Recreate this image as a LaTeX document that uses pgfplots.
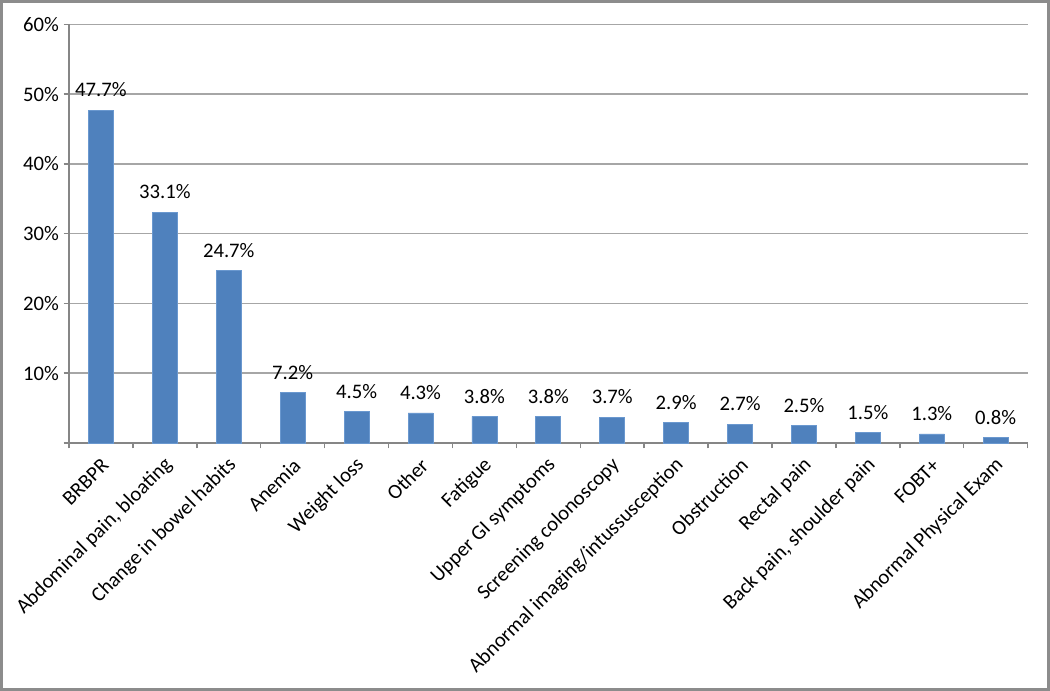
\documentclass[border=0pt]{standalone}
\usepackage{pgfplots}
\pgfplotsset{compat=1.18}
\usepackage{fontspec}
\setmainfont{Carlito}
\definecolor{barblue}{HTML}{4F81BD}
\definecolor{baredge}{HTML}{6A98CF}
\definecolor{gridgray}{HTML}{A6A6A6}
\definecolor{axgray}{HTML}{868686}
\definecolor{framegray}{HTML}{8C8C8C}
\begin{document}
\begin{tikzpicture}[x=1pt,y=1pt]
\begin{axis}[
  at={(0,0)}, anchor=south west,
  scale only axis, width=719pt, height=314pt,
  xmin=-0.5, xmax=14.5, ymin=0, ymax=60,
  ybar, bar width=18.75pt,
  axis x line*=bottom, axis y line*=left,
  axis line style={axgray, line width=1.1pt},
  tick align=outside,
  xtick={0,...,14},
  xticklabels={BRBPR,{Abdominal pain, bloating},Change in bowel habits,Anemia,Weight loss,Other,Fatigue,Upper GI symptoms,Screening colonoscopy,Abnormal imaging/intussusception,Obstruction,Rectal pain,{Back pain, shoulder pain},FOBT+,Abnormal Physical Exam},
  major x tick style={draw=none},
  minor xtick={-0.5,0.5,...,14.5},
  minor x tick style={axgray, line width=1.1pt},
  minor tick length=4pt,
  xticklabel style={rotate=45, anchor=east, font=\fontsize{15.5}{17}\selectfont, xshift=-1.5pt, yshift=-9.5pt},
  ytick={0,10,...,60},
  yticklabels={,10\%,20\%,30\%,40\%,50\%,60\%},
  yticklabel style={font=\fontsize{15.5}{17}\selectfont},
  y tick style={axgray, line width=1.1pt},
  major tick length=4pt,
  ymajorgrids, major grid style={gridgray, line width=1.1pt},
  nodes near coords={\pgfmathprintnumber[assume math mode=true,fixed,precision=1,fixed zerofill]{\pgfplotspointmeta}\%},
  every node near coord/.append style={font=\fontsize{15.5}{17}\selectfont, anchor=base, inner sep=0pt, yshift=10pt, black},
  clip=false,
]
\addplot[fill=barblue, draw=baredge, line width=0.6pt] coordinates {
 (0,47.7) (1,33.1) (2,24.7) (3,7.2) (4,4.5) (5,4.3) (6,3.8) (7,3.8)
 (8,3.7) (9,2.9) (10,2.7) (11,2.5) (12,1.5) (13,1.3) (14,0.8)};
\end{axis}
\draw[framegray, line width=2pt] (-50.75,-185) rectangle (734.75,331.25);
\end{tikzpicture}
\end{document}
